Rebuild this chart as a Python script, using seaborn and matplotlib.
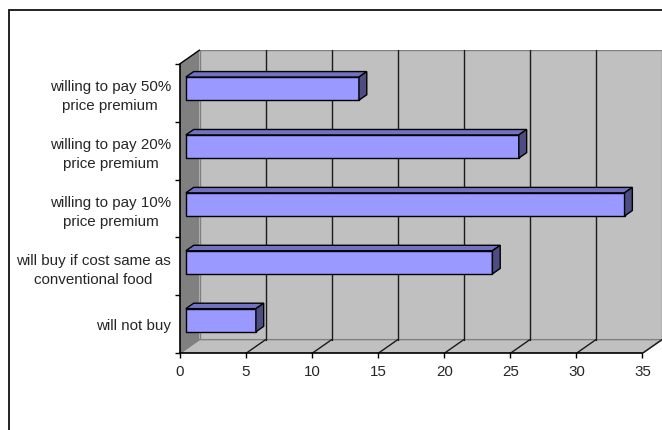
import matplotlib
matplotlib.use("Agg")
import matplotlib.pyplot as plt
import matplotlib.lines as mlines
from matplotlib.patches import Polygon, Rectangle
import numpy as np
import pandas as pd
import seaborn as sns

# Survey answers, listed top to bottom
categories = [
    "willing to pay 50%\nprice premium",
    "willing to pay 20%\nprice premium",
    "willing to pay 10%\nprice premium",
    "will buy if cost same as\nconventional food",
    "will not buy",
]
values = [13.1, 25.2, 33.2, 23.2, 5.3]
x_ticks = [0, 5, 10, 15, 20, 25, 30, 35]

df = pd.DataFrame({"answer": categories, "share": values})

sns.set_style("white")
plt.rcParams["font.family"] = ["Liberation Sans", "DejaVu Sans"]

FRONT = "#9999FF"
TOP = "#7272C2"
SIDE = "#4D4D82"
WALL = "#C0C0C0"
SIDEWALL = "#808080"

# projection of the depth axis: value units along x, category units along y
DX = 1.48
DY = 0.236
D0, BD = 0.30, 0.40   # bar front depth and bar thickness (fractions of depth)
XMAX = x_ticks[-1]
n = len(categories)
y_lo, y_hi = -0.5, n - 0.5

fig = plt.figure(figsize=(6.62, 4.30), dpi=100)
ax = fig.add_axes([180 / 662, (430 - 353.3) / 430, 482 / 662, 303.2 / 430])

sns.barplot(data=df, x="share", y="answer", order=categories, orient="h",
            width=0.4, color=FRONT, saturation=1, edgecolor="black",
            linewidth=1.0, ax=ax, zorder=3)

ax.set_xlim(0, XMAX + DX)
ax.set_ylim(y_hi, y_lo - DY)

# walls and floor
ax.add_patch(Polygon([(0, y_hi), (0, y_lo), (DX, y_lo - DY), (DX, y_hi - DY)],
                     closed=True, facecolor=SIDEWALL, edgecolor="none", zorder=0))
ax.add_patch(Rectangle((DX, y_lo - DY), XMAX, n, facecolor=WALL,
                       edgecolor=SIDEWALL, linewidth=1.0, zorder=0))
ax.add_patch(Polygon([(0, y_hi), (XMAX, y_hi), (XMAX + DX, y_hi - DY), (DX, y_hi - DY)],
                     closed=True, facecolor=WALL, edgecolor=SIDEWALL,
                     linewidth=1.0, zorder=0.2))

# gridlines on the back wall and floor
for xv in x_ticks[1:]:
    if xv < XMAX:
        ax.plot([xv + DX, xv + DX], [y_hi - DY, y_lo - DY], color="#1a1a1a",
                lw=1.0, zorder=0.5, clip_on=False)
    ax.plot([xv, xv + DX], [y_hi, y_hi - DY], color="#1a1a1a", lw=1.0,
            zorder=0.5, clip_on=False)
ax.plot([0, DX], [y_lo, y_lo - DY], color="black", lw=1.0, zorder=0.6, clip_on=False)

# front axis lines
ax.plot([0, 0], [y_hi, y_lo], color="black", lw=1.2, zorder=4, clip_on=False)
ax.plot([0, XMAX], [y_hi, y_hi], color="black", lw=1.2, zorder=4, clip_on=False)

# push the bars into the depth and give them top and side faces
for p in ax.patches:
    if p.get_facecolor()[:3] != matplotlib.colors.to_rgb(FRONT):
        continue
    p.set_x(p.get_x() + D0 * DX)
    p.set_y(p.get_y() - D0 * DY)
    x0, y0 = p.get_x(), p.get_y()
    w, h = p.get_width(), p.get_height()
    x1 = x0 + w
    ytop = y0            # inverted axis: smaller y is higher
    ybot = y0 + h
    bx, by = BD * DX, BD * DY
    ax.add_patch(Polygon([(x0, ytop), (x1, ytop), (x1 + bx, ytop - by), (x0 + bx, ytop - by)],
                         closed=True, facecolor=TOP, edgecolor="black", linewidth=1.0, zorder=3))
    ax.add_patch(Polygon([(x1, ytop), (x1, ybot), (x1 + bx, ybot - by), (x1 + bx, ytop - by)],
                         closed=True, facecolor=SIDE, edgecolor="black", linewidth=1.0, zorder=3))

for s in ax.spines.values():
    s.set_visible(False)

ax.set_xticks(x_ticks)
ax.set_xticklabels([str(v) for v in x_ticks])
ax.set_yticks(range(n))
ax.set_yticklabels(categories, multialignment="center", linespacing=1.45)
ax.set_yticks(np.arange(n + 1) - 0.5, minor=True)
ax.tick_params(axis="x", which="major", direction="out", length=3.6, width=1.0,
               color="black", labelsize=10.9, pad=5.0, bottom=True)
ax.tick_params(axis="y", which="major", length=0, labelsize=10.9, pad=6.5, left=True)
ax.tick_params(axis="y", which="minor", direction="out", length=3.6, width=1.0,
               color="black", left=True)
ax.set_xlabel("")
ax.set_ylabel("")
ax.grid(False)

# chart area border
fig.add_artist(mlines.Line2D([9 / 662, 9 / 662], [0, 1 - 9.5 / 430], color="#222222",
                             lw=1.4, transform=fig.transFigure))
fig.add_artist(mlines.Line2D([9 / 662, 1], [1 - 9.5 / 430, 1 - 9.5 / 430], color="#222222",
                             lw=1.4, transform=fig.transFigure))

fig.savefig("out.png", dpi=100, facecolor="white")
